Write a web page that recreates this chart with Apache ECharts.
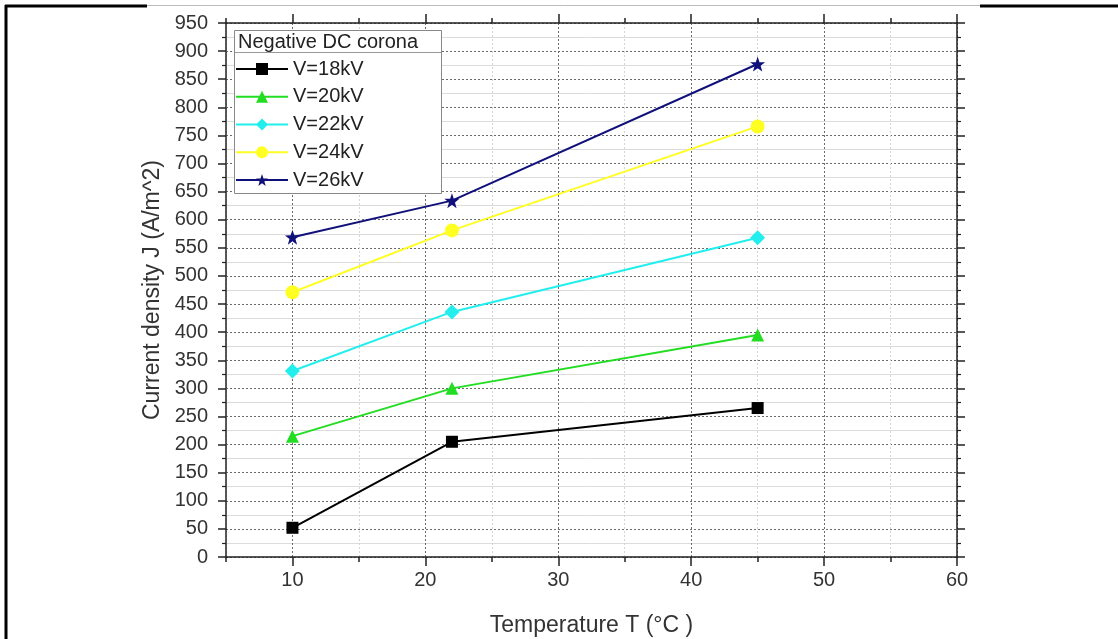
<!DOCTYPE html>
<html>
<head>
<meta charset="utf-8">
<script src="https://cdn.jsdelivr.net/npm/echarts@6/dist/echarts.min.js"></script>
<style>
html,body{margin:0;padding:0;background:#fff;}
#chart{width:1118px;height:639px;}
</style>
</head>
<body>
<div id="chart"></div>
<script>
var temperatures = [10, 22, 45];
var seriesNames = ['V=18kV', 'V=20kV', 'V=22kV', 'V=24kV', 'V=26kV'];
var v18 = [52, 205, 265];
var v20 = [215, 300, 395];
var v22 = [331, 436, 568];
var v24 = [471, 581, 766];
var v26 = [569, 634, 877];
var xTickLabels = [10, 20, 30, 40, 50, 60];
var legendTitle = 'Negative DC corona';
var xName = 'Temperature T (°C )';
var yName = 'Current density J (A/m^2)';

var allValues = [v18, v20, v22, v24, v26];
var colors = ['#000000', '#22dd22', '#22eeee', '#ffff22', '#10107a'];
var starPath = 'path://M0,-10 L2.35,-3.24 L9.51,-3.09 L3.8,1.24 L5.88,8.09 L0,4 L-5.88,8.09 L-3.8,1.24 L-9.51,-3.09 L-2.35,-3.24 Z';
var symbols = ['rect', 'triangle', 'diamond', 'circle', starPath];
var symbolSizes = [12, 13, 15, 14, 15];

function pairs(vals) {
  return temperatures.map(function (t, i) { return [t, vals[i]]; });
}

var series = seriesNames.map(function (name, i) {
  return {
    name: name,
    type: 'line',
    xAxisIndex: 0,
    yAxisIndex: 0,
    data: pairs(allValues[i]),
    symbol: symbols[i],
    symbolSize: symbolSizes[i],
    showAllSymbol: true,
    lineStyle: { color: colors[i], width: 2 },
    itemStyle: { color: colors[i] },
    z: 3
  };
});

var GL = 226, GR = 161, GT = 23, GB = 82;
var txt = '#333';

var chart = echarts.init(document.getElementById('chart'));
chart.setOption({
  animation: false,
  backgroundColor: '#fff',
  grid: { left: GL, right: GR, top: GT, bottom: GB, containLabel: false, outerBoundsMode: 'none' },
  xAxis: [
    {
      type: 'value', min: 5, max: 60, interval: 5, position: 'bottom',
      name: xName, nameLocation: 'middle', nameGap: 57,
      nameTextStyle: { fontSize: 23, color: txt, fontFamily: 'Liberation Sans, Arial' },
      axisLine: { show: true, lineStyle: { color: '#222', width: 1.5 } },
      axisTick: { show: true, inside: false, length: 5, lineStyle: { color: '#222', width: 1.5 } },
      axisLabel: {
        show: true, margin: 13, fontSize: 20, color: txt, fontFamily: 'Liberation Sans, Arial',
        formatter: function (v) { return xTickLabels.indexOf(v) >= 0 ? String(v) : ''; }
      },
      splitLine: { show: true, lineStyle: { color: ['#d4d4d4', '#6a6a6a'], type: [2, 2], width: 1 } }
    },
    {
      type: 'value', min: 5, max: 60, interval: 5, position: 'bottom', offset: 0,
      axisLine: { show: false },
      axisTick: { show: true, length: 9, customValues: xTickLabels, lineStyle: { color: '#222', width: 1.5 } },
      axisLabel: { show: false },
      splitLine: { show: false }
    },
    {
      type: 'value', min: 5, max: 60, interval: 5, position: 'top',
      axisLine: { show: true, lineStyle: { color: '#222', width: 1.5 } },
      axisTick: { show: true, length: 5, lineStyle: { color: '#222', width: 1.5 } },
      axisLabel: { show: false },
      splitLine: { show: false }
    },
    {
      type: 'value', min: 5, max: 60, interval: 5, position: 'top', offset: 0,
      axisLine: { show: false },
      axisTick: { show: true, length: 9, customValues: xTickLabels, lineStyle: { color: '#222', width: 1.5 } },
      axisLabel: { show: false },
      splitLine: { show: false }
    }
  ],
  yAxis: [
    {
      type: 'value', min: 0, max: 950, interval: 50, position: 'left',
      name: yName, nameLocation: 'middle', nameGap: 55, nameRotate: 90,
      nameTextStyle: { fontSize: 23, color: txt, fontFamily: 'Liberation Sans, Arial' },
      axisLine: { show: true, lineStyle: { color: '#222', width: 1.5 } },
      axisTick: { show: true, length: 8, lineStyle: { color: '#222', width: 1.5 } },
      minorTick: { show: true, splitNumber: 2, length: 4, lineStyle: { color: '#222', width: 1.2 } },
      axisLabel: { show: true, margin: 18, fontSize: 20, color: txt, fontFamily: 'Liberation Sans, Arial' },
      splitLine: { show: true, lineStyle: { color: '#6a6a6a', type: [2, 2], width: 1 } },
      minorSplitLine: { show: true, lineStyle: { color: '#dcdcdc', width: 1 } }
    },
    {
      type: 'value', min: 0, max: 950, interval: 50, position: 'right',
      axisLine: { show: true, lineStyle: { color: '#222', width: 1.5 } },
      axisTick: { show: true, length: 8, lineStyle: { color: '#222', width: 1.5 } },
      minorTick: { show: true, splitNumber: 2, length: 4, lineStyle: { color: '#222', width: 1.2 } },
      axisLabel: { show: false },
      splitLine: { show: false }
    }
  ],
  legend: {
    show: true,
    orient: 'vertical',
    left: 234,
    top: 30,
    padding: [29, 10, 4, 1],
    itemWidth: 52,
    itemHeight: 15,
    itemGap: 7.75,
    textStyle: { fontSize: 20, color: '#222', fontFamily: 'Liberation Sans, Arial' },
    data: seriesNames,
    z: 6
  },
  graphic: [
    { type: 'rect', z: 5, shape: { x: 234.5, y: 30.5, width: 207, height: 163 },
      style: { fill: '#fff', stroke: '#888', lineWidth: 1 } },
    { type: 'line', z: 6, shape: { x1: 234.5, y1: 52.5, x2: 441.5, y2: 52.5 },
      style: { stroke: '#999', lineWidth: 1 } },
    { type: 'text', z: 7, x: 238, y: 42, style: { text: legendTitle, fontSize: 20, fill: '#222',
      fontFamily: 'Liberation Sans, Arial', textVerticalAlign: 'middle', verticalAlign: 'middle' } },
    { type: 'line', z: 10, shape: { x1: 6, y1: 5, x2: 6, y2: 639 }, style: { stroke: '#000', lineWidth: 3 } },
    { type: 'line', z: 10, shape: { x1: 5, y1: 6, x2: 147, y2: 6 }, style: { stroke: '#000', lineWidth: 3 } },
    { type: 'line', z: 10, shape: { x1: 147, y1: 5.5, x2: 980, y2: 5.5 }, style: { stroke: '#bbb', lineWidth: 1 } },
    { type: 'line', z: 10, shape: { x1: 980, y1: 6, x2: 1118, y2: 6 }, style: { stroke: '#000', lineWidth: 3 } }
  ],
  series: series
});
</script>
</body>
</html>
